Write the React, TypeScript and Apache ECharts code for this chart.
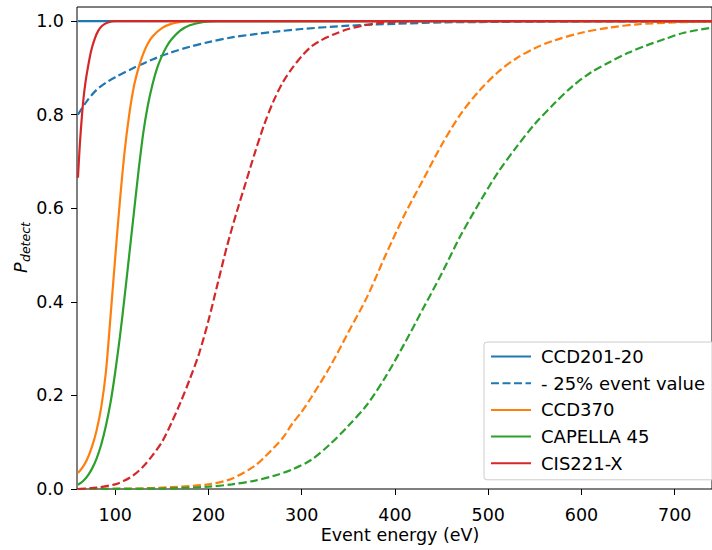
import React, { useEffect, useRef } from "react";
import * as echarts from "echarts";

// ---- data ----
const xTicks = [100, 200, 300, 400, 500, 600, 700];
const yTicks = [0, 0.2, 0.4, 0.6, 0.8, 1.0];

const ccd201X = [60, 740];
const ccd201Y = [1, 1];

const ccd201LowX = [60, 70, 80, 90, 100, 120, 140, 160, 180, 200, 225, 250, 275, 300, 350, 400, 450, 500, 600, 740];
const ccd201LowY = [0.8, 0.83, 0.853, 0.868, 0.88, 0.9, 0.918, 0.933, 0.945, 0.955, 0.965, 0.972, 0.978, 0.983, 0.99, 0.994, 0.997, 0.998, 0.9995, 1.0];

const ccd370X = [60, 65, 70, 75, 80, 85, 90, 95, 100, 105, 110, 115, 120, 125, 130, 135, 140, 150, 160, 170, 180, 740];
const ccd370Y = [0.034, 0.046, 0.064, 0.09, 0.125, 0.175, 0.25, 0.37, 0.495, 0.615, 0.72, 0.8, 0.86, 0.9, 0.93, 0.952, 0.967, 0.985, 0.994, 0.998, 1.0, 1.0];

const ccd370LowX = [60, 120, 160, 200, 225, 250, 260, 270, 280, 290, 300, 310, 330, 350, 370, 390, 410, 430, 450, 470, 490, 510, 530, 550, 570, 600, 630, 660, 700, 740];
const ccd370LowY = [0, 0.001, 0.004, 0.01, 0.022, 0.05, 0.068, 0.088, 0.11, 0.14, 0.165, 0.195, 0.26, 0.335, 0.41, 0.5, 0.585, 0.66, 0.735, 0.8, 0.85, 0.89, 0.92, 0.942, 0.958, 0.975, 0.986, 0.993, 0.997, 0.999];

const capellaX = [60, 65, 70, 75, 80, 85, 90, 95, 100, 105, 110, 115, 120, 125, 130, 135, 140, 145, 150, 155, 160, 170, 180, 195, 210, 740];
const capellaY = [0.009, 0.016, 0.027, 0.043, 0.065, 0.095, 0.135, 0.185, 0.25, 0.325, 0.41, 0.5, 0.59, 0.68, 0.76, 0.82, 0.865, 0.9, 0.925, 0.945, 0.96, 0.98, 0.991, 0.998, 1.0, 1.0];

const capellaLowX = [60, 150, 200, 225, 250, 270, 290, 310, 330, 350, 370, 390, 410, 430, 450, 470, 490, 510, 530, 550, 570, 590, 610, 630, 650, 670, 690, 710, 740];
const capellaLowY = [0, 0.001, 0.005, 0.01, 0.018, 0.028, 0.042, 0.062, 0.095, 0.135, 0.18, 0.24, 0.31, 0.385, 0.46, 0.54, 0.61, 0.675, 0.73, 0.78, 0.822, 0.86, 0.89, 0.912, 0.932, 0.948, 0.962, 0.975, 0.986];

const cis221X = [60, 62, 64, 66, 68, 70, 74, 78, 82, 86, 92, 100, 740];
const cis221Y = [0.665, 0.735, 0.79, 0.835, 0.868, 0.893, 0.935, 0.962, 0.98, 0.99, 0.997, 1.0, 1.0];

const cis221LowX = [60, 80, 100, 110, 120, 130, 140, 150, 160, 170, 180, 190, 200, 210, 220, 230, 240, 250, 260, 270, 280, 290, 300, 310, 320, 335, 350, 365, 380, 400, 450, 740];
const cis221LowY = [0, 0.003, 0.01, 0.018, 0.03, 0.048, 0.072, 0.1, 0.14, 0.185, 0.235, 0.29, 0.36, 0.44, 0.52, 0.59, 0.655, 0.72, 0.78, 0.83, 0.87, 0.9, 0.925, 0.945, 0.958, 0.972, 0.983, 0.99, 0.995, 0.998, 1.0, 1.0];

const legendNames = ["CCD201-20", "- 25% event value", "CCD370", "CAPELLA 45", "CIS221-X"];

const BLUE = "#1f77b4";
const ORANGE = "#ff7f0e";
const GREEN = "#2ca02c";
const RED = "#d62728";
const FONT = "DejaVu Sans";
const FS = 17.5;

const pairs = (xs: number[], ys: number[]) => xs.map((x, i) => [x, ys[i]]);

export default function App() {
  const ref = useRef<HTMLDivElement>(null);
  useEffect(() => {
    if (!ref.current) return;
    const chart = echarts.init(ref.current, null, { renderer: "svg" });
    const mk = (name: string, xs: number[], ys: number[], color: string, dashed: boolean) => ({
      name,
      type: "line",
      data: pairs(xs, ys),
      showSymbol: false,
      symbol: "none",
      smooth: 0.3,
      color,
      lineStyle: { color, width: 2.2, type: dashed ? [8, 3.5] : "solid" },
      emphasis: { disabled: true },
    });
    chart.setOption({
      animation: false,
      grid: {
        left: 77,
        top: 7,
        right: -11,
        bottom: 61,
        show: true,
        borderColor: "#000",
        borderWidth: 1,
        backgroundColor: "transparent",
      },
      xAxis: {
        type: "value",
        min: 59,
        max: 740,
        axisLine: { show: false },
        splitLine: { show: false },
        axisTick: { show: true, length: 6, lineStyle: { color: "#000", width: 1 }, customValues: xTicks },
        axisLabel: { customValues: xTicks, color: "#000", fontFamily: FONT, fontSize: FS, margin: 17 },
      },
      yAxis: {
        type: "value",
        min: 0,
        max: 1.03,
        axisLine: { show: false },
        splitLine: { show: false },
        axisTick: { show: true, length: 6, lineStyle: { color: "#000", width: 1 }, customValues: yTicks },
        axisLabel: {
          customValues: yTicks,
          color: "#000",
          fontFamily: FONT,
          fontSize: FS,
          margin: 13,
          formatter: (v: number) => v.toFixed(1),
        },
      },
      legend: {
        data: legendNames,
        orient: "vertical",
        left: 484,
        top: 342,
        padding: [5, 24, 7, 6],
        itemGap: 7.7,
        itemWidth: 40,
        itemHeight: 14,
        selectedMode: false,
        backgroundColor: "rgba(255,255,255,0.8)",
        borderColor: "#cccccc",
        borderWidth: 1,
        borderRadius: 3,
        itemStyle: { opacity: 0, borderWidth: 0 },
        textStyle: { color: "#000", fontFamily: FONT, fontSize: 18, lineHeight: 19, padding: [0, 0, 0, 5] },
      },
      series: [
        mk("CCD201-20", ccd201X, ccd201Y, BLUE, false),
        mk("- 25% event value", ccd201LowX, ccd201LowY, BLUE, true),
        mk("CCD370", ccd370X, ccd370Y, ORANGE, false),
        mk("CCD370 -25%", ccd370LowX, ccd370LowY, ORANGE, true),
        mk("CAPELLA 45", capellaX, capellaY, GREEN, false),
        mk("CAPELLA 45 -25%", capellaLowX, capellaLowY, GREEN, true),
        mk("CIS221-X", cis221X, cis221Y, RED, false),
        mk("CIS221-X -25%", cis221LowX, cis221LowY, RED, true),
      ],
      graphic: [
        {
          type: "text",
          x: 400,
          y: 535,
          style: {
            text: "Event energy (eV)",
            fontFamily: FONT,
            fontSize: FS,
            fill: "#000",
            textAlign: "center",
            textVerticalAlign: "middle",
          },
        },
        {
          type: "group",
          x: 21,
          y: 248,
          rotation: Math.PI / 2,
          children: [
            {
              type: "text",
              x: -25,
              y: 0,
              style: {
                text: "P",
                fontFamily: FONT,
                fontStyle: "italic",
                fontSize: FS,
                fill: "#000",
                textAlign: "left",
                textVerticalAlign: "middle",
              },
            },
            {
              type: "text",
              x: -14,
              y: 4,
              style: {
                text: "detect",
                fontFamily: FONT,
                fontStyle: "italic",
                fontSize: 12.5,
                fill: "#000",
                textAlign: "left",
                textVerticalAlign: "middle",
              },
            },
          ],
        },
      ],
    });
    return () => chart.dispose();
  }, []);
  return (
    <div
      ref={ref}
      style={{ position: "absolute", left: 0, top: 0, width: 712, height: 550, overflow: "hidden" }}
    />
  );
}
